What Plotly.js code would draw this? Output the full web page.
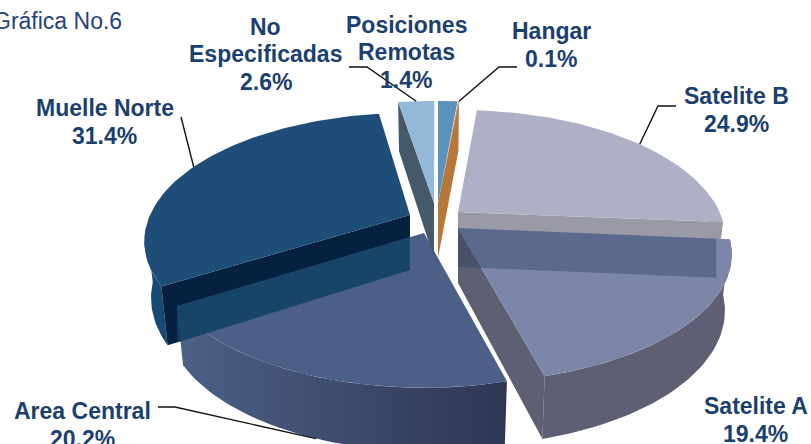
<!DOCTYPE html>
<html><head><meta charset="utf-8">
<script src="https://cdn.plot.ly/plotly-3.0.1.min.js"></script>
<style>html,body{margin:0;padding:0;background:#fff;overflow:hidden}#c{width:811px;height:444px}</style>
</head><body><div id="c"></div>
<script>
// Data, clockwise from the top of the pie
const categories = ["Satelite B","Satelite A","Area Central","Muelle Norte","No Especificadas","Posiciones Remotas","Hangar"];
const shares = [24.9,19.4,20.2,31.4,2.6,1.4,0.1];
const labelLines = {
  "Satelite B":["Satelite B"],"Satelite A":["Satelite A"],"Area Central":["Area Central"],"Muelle Norte":["Muelle Norte"],
  "No Especificadas":["No","Especificadas"],"Posiciones Remotas":["Posiciones","Remotas"],"Hangar":["Hangar"]
};
const chartNote = "Gráfica No.6";

// Look of the projected pie
const startAngle = 3.5, A = 268, B = 123, K = 0.205, DEPTH = 55;
const geom = {
  "Satelite B":{ax:458,ay:212,nudge:1.5,scale:0.975},
  "Satelite A":{ax:458,ay:228,nudge:2,scale:1},
  "Area Central":{ax:424,ay:233,nudge:2.2,scale:0.97},
  "Muelle Norte":{ax:410,ay:215,nudge:3,scale:0.97},
  "No Especificadas":{ax:434,ay:203,nudge:2,scale:1},
  "Posiciones Remotas":{ax:438,ay:203,nudge:1.9,scale:1},
  "Hangar":{ax:438,ay:203,nudge:1.9,scale:1}
};
const labelPos = {
  "Satelite B":[736,110],"Satelite A":[755.5,420],"Area Central":[82,425],"Muelle Norte":[104.5,122],
  "No Especificadas":[265.5,54],"Posiciones Remotas":[406,52],"Hangar":[551,45]
};
const LINE_GAP = 27.5;
const leaders = {
  "Satelite B":[[676,106],[658,106]],
  "Area Central":[[158,407],[175,407]],
  "Muelle Norte":[[181,117]],
  "No Especificadas":[[349,67],[367,67]],
  "Hangar":[[517,67],[499,67]]
};
const leaderAt = {"Satelite B":0.52,"Area Central":0.48,"Muelle Norte":0.5,"No Especificadas":0.5,"Hangar":1};
const TEXT = "#1b3f6e";

// Slice geometry, derived from the shares
const sl = {};
let cum = startAngle;
categories.forEach((c,i)=>{
  const sweep = shares[i]*3.6, g = geom[c];
  sl[c] = Object.assign({},g,{t0:cum+g.nudge,t1:cum+g.nudge+sweep});
  cum += sweep;
});
function upper(c,t){
  const s=sl[c],r=t*Math.PI/180,X=Math.sin(r),Z=Math.cos(r),f=1/(1+K*Z);
  return [s.ax+A*s.scale*X*f, s.ay-B*Z*f, f];
}
function lower(c,t){
  const s=sl[c],p=upper(c,t);
  return [s.ax+(p[0]-s.ax)*0.975, p[1]+DEPTH*Math.pow(p[2],0.6)];
}
function apexLow(c){const s=sl[c];return [s.ax,s.ay+DEPTH];}
function arc(c,a,b,fn){const n=Math.max(2,Math.ceil(Math.abs(b-a)/1.5)),o=[];for(let i=0;i<=n;i++)o.push((fn||upper)(c,a+(b-a)*i/n));return o;}
const traces=[];
function poly(pts,color,grad){
  const t={type:"scatter",mode:"lines",x:pts.map(p=>p[0]).concat(pts[0][0]),y:pts.map(p=>p[1]).concat(pts[0][1]),
    fill:"toself",line:{width:0,color:"rgba(0,0,0,0)"},hoverinfo:"skip",showlegend:false};
  if(grad)t.fillgradient={type:"horizontal",colorscale:grad};else t.fillcolor=color;
  traces.push(t);
}
function topFace(c,color){const s=sl[c];poly([[s.ax,s.ay]].concat(arc(c,s.t0,s.t1)),color);}
function outer(c,a,b,color,grad){poly(arc(c,a,b).concat(arc(c,b,a,lower)),color,grad);}
function cut(c,t,color){const s=sl[c];poly([[s.ax,s.ay],upper(c,t),lower(c,t),apexLow(c)],color);}
function edgeY(c,t,x){const s=sl[c],p=upper(c,t);return s.ay+(p[1]-s.ay)*(x-s.ax)/(p[0]-s.ax);}
function lowY(c,t,x){const a=apexLow(c),p=lower(c,t);return a[1]+(p[1]-a[1])*(x-a[0])/(p[0]-a[0]);}

const SB="Satelite B",SA="Satelite A",AC="Area Central",MN="Muelle Norte",NE="No Especificadas",PR="Posiciones Remotas",HG="Hangar";

// Satelite B
cut(SB,sl[SB].t1,"#9a9aa6");
outer(SB,sl[SB].t1-12,sl[SB].t1,"#9a9aa6");
topFace(SB,"#aeb1c6");
// Satelite A
cut(SA,sl[SA].t1,"#5f5f73");
outer(SA,sl[SA].t0,sl[SA].t1,"#5f5f73");
topFace(SA,"#7c86a8");
// the side of Satelite B seen through Satelite A
(function(){
  const xr=lower(SB,sl[SB].t1)[0];
  poly([[sl[SA].ax,sl[SA].ay],[xr,edgeY(SA,sl[SA].t0,xr)],[xr,lowY(SB,sl[SB].t1,xr)],apexLow(SB)],"rgba(32,54,88,0.35)");
})();
// Muelle Norte
outer(MN,sl[MN].t0,sl[MN].t0+26,"#174a73");
cut(MN,sl[MN].t0,"#05213f");
topFace(MN,"#1e4d78");
// Area Central
outer(AC,sl[AC].t0,sl[AC].t1,null,[[0,"#4d6087"],[1,"#2e3652"]]);
topFace(AC,"#4b5f87");
// the side of Muelle Norte seen through Area Central
(function(){
  const c=upper(AC,sl[AC].t1), xr=sl[MN].ax;
  const ey=sl[AC].ay+(c[1]-sl[AC].ay)*(xr-sl[AC].ax)/(c[0]-sl[AC].ax);
  poly([[c[0],c[1]],[xr,ey],apexLow(MN),[c[0],lowY(MN,sl[MN].t0,c[0])]],"rgba(15,63,99,0.85)");
})();
// small slices
cut(NE,sl[NE].t0,"#45596b");
topFace(NE,"#94b8d8");
cut(HG,sl[HG].t1,"#b7763a");
topFace(PR,"#5a92bb");
topFace(HG,"#b7763a");

// Leader lines
Object.keys(leaders).forEach(c=>{
  const s=sl[c],t=s.t0+(s.t1-s.t0)*leaderAt[c];
  const base=c===AC?lower(c,t):upper(c,t);
  const pts=leaders[c].concat([[base[0],base[1]]]);
  traces.push({type:"scatter",mode:"lines",x:pts.map(p=>p[0]),y:pts.map(p=>p[1]),line:{color:"#111",width:1.4},hoverinfo:"skip",showlegend:false});
});

const annotations=[];
categories.forEach((c,i)=>{
  const lines=labelLines[c].concat([shares[i].toFixed(1)+"%"]);
  lines.forEach((txt,k)=>annotations.push({
    x:labelPos[c][0],y:labelPos[c][1]+(k-(lines.length-1)/2)*LINE_GAP,xref:"x",yref:"y",xanchor:"center",yanchor:"middle",showarrow:false,
    text:txt,font:{family:"Liberation Sans, Arial, sans-serif",size:23,color:TEXT,weight:700},align:"center"
  }));
});
annotations.push({x:-9/811,y:1-21/444,xref:"paper",yref:"paper",xanchor:"left",yanchor:"middle",showarrow:false,
  text:chartNote,font:{family:"Liberation Sans, Arial, sans-serif",size:23,color:"#1f4576"}});

Plotly.newPlot("c",traces,{
  width:811,height:444,margin:{l:0,r:0,t:0,b:0},paper_bgcolor:"#fff",plot_bgcolor:"#fff",showlegend:false,
  xaxis:{visible:false,range:[0,811],fixedrange:true},
  yaxis:{visible:false,range:[444,0],fixedrange:true},
  annotations
},{displayModeBar:false,staticPlot:true});
</script></body></html>
